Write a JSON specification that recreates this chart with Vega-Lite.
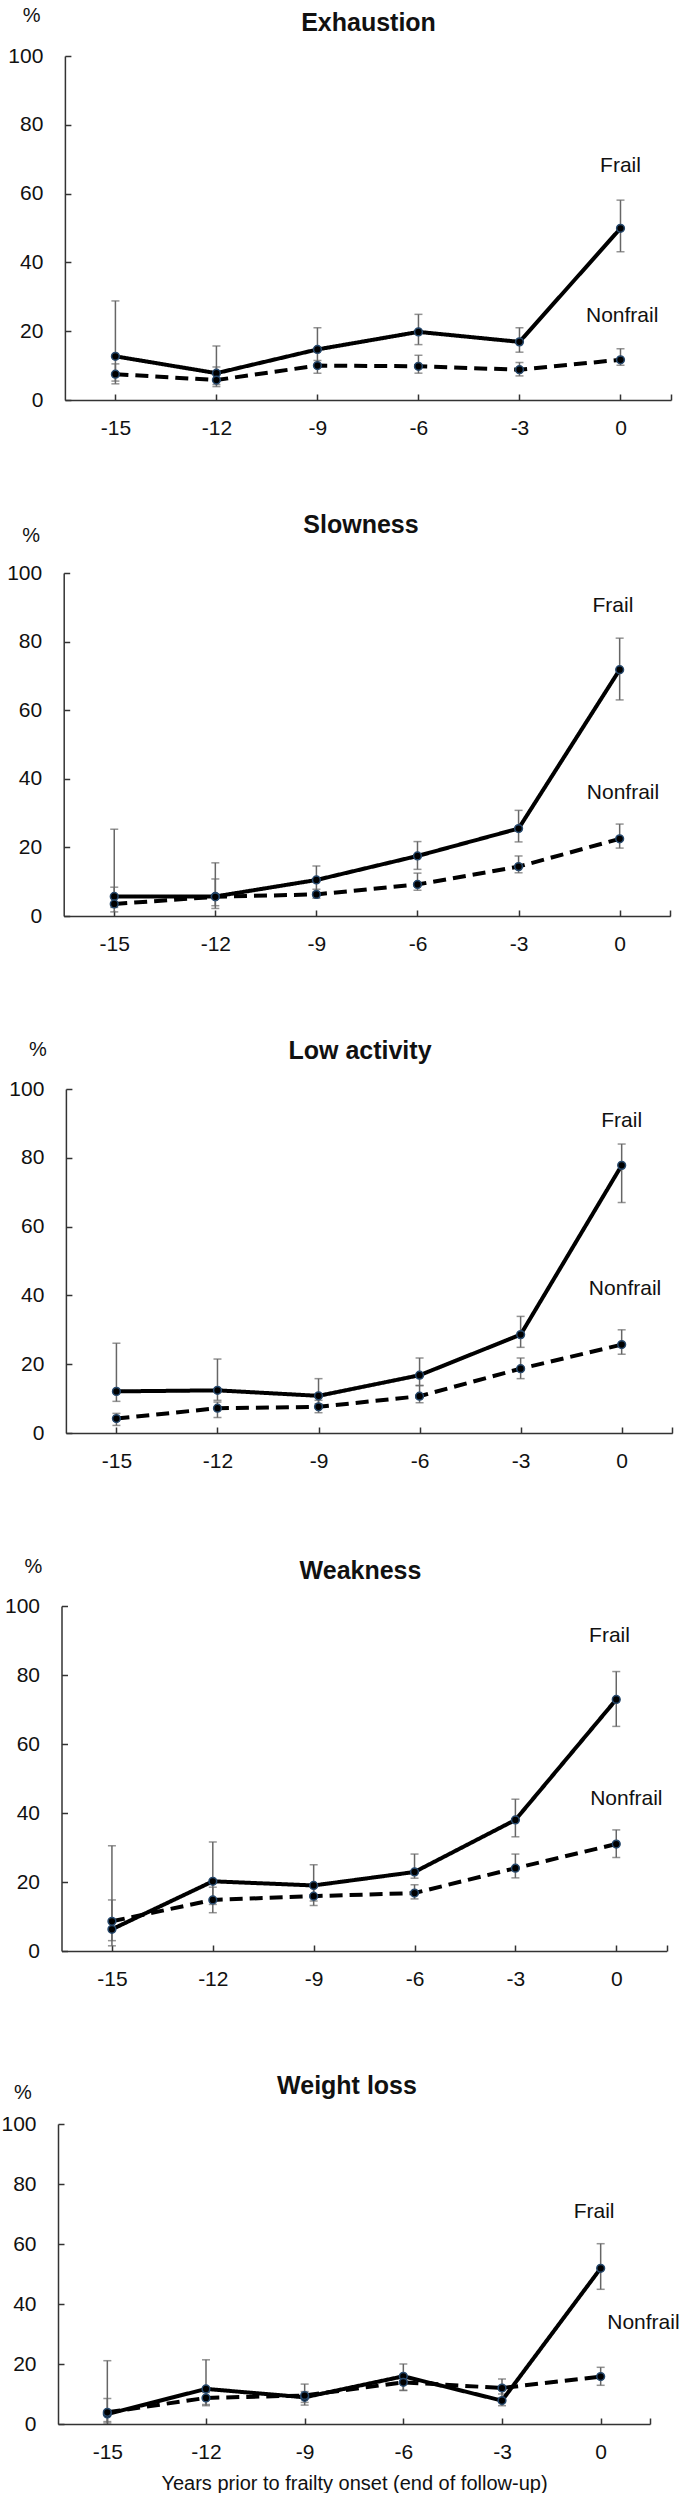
{
  "$schema": "https://vega.github.io/schema/vega-lite/v6.json",
  "padding": {"left": 0, "top": 5, "right": 0, "bottom": 0},
  "background": "white",
  "spacing": 173,
  "bounds": "flush",
  "datasets": {
    "pts": [
      {"panel": "Exhaustion", "group": "Frail", "year": -15, "value": 12.7, "lo": 5.5, "hi": 28.8},
      {"panel": "Exhaustion", "group": "Frail", "year": -12, "value": 7.8, "lo": 4.5, "hi": 15.7},
      {"panel": "Exhaustion", "group": "Frail", "year": -9, "value": 14.7, "lo": 10.0, "hi": 21.0},
      {"panel": "Exhaustion", "group": "Frail", "year": -6, "value": 19.8, "lo": 16.1, "hi": 24.9},
      {"panel": "Exhaustion", "group": "Frail", "year": -3, "value": 16.9, "lo": 13.9, "hi": 21.0},
      {"panel": "Exhaustion", "group": "Frail", "year": 0, "value": 49.9, "lo": 43.1, "hi": 58.1},
      {"panel": "Exhaustion", "group": "Nonfrail", "year": -15, "value": 7.5, "lo": 4.7, "hi": 10.5},
      {"panel": "Exhaustion", "group": "Nonfrail", "year": -12, "value": 5.8, "lo": 3.9, "hi": 9.6},
      {"panel": "Exhaustion", "group": "Nonfrail", "year": -9, "value": 10.0, "lo": 7.8, "hi": 11.5},
      {"panel": "Exhaustion", "group": "Nonfrail", "year": -6, "value": 9.8, "lo": 7.8, "hi": 13.0},
      {"panel": "Exhaustion", "group": "Nonfrail", "year": -3, "value": 8.8, "lo": 7.0, "hi": 10.9},
      {"panel": "Exhaustion", "group": "Nonfrail", "year": 0, "value": 11.7, "lo": 10.1, "hi": 14.9},
      {"panel": "Slowness", "group": "Frail", "year": -15, "value": 5.7, "lo": 2.5, "hi": 25.3},
      {"panel": "Slowness", "group": "Frail", "year": -12, "value": 5.7, "lo": 3.0, "hi": 15.5},
      {"panel": "Slowness", "group": "Frail", "year": -9, "value": 10.5, "lo": 7.0, "hi": 14.6},
      {"panel": "Slowness", "group": "Frail", "year": -6, "value": 17.5, "lo": 13.6, "hi": 21.7},
      {"panel": "Slowness", "group": "Frail", "year": -3, "value": 25.5, "lo": 21.6, "hi": 30.8},
      {"panel": "Slowness", "group": "Frail", "year": 0, "value": 71.8, "lo": 63.0, "hi": 81.0},
      {"panel": "Slowness", "group": "Nonfrail", "year": -15, "value": 3.5, "lo": 1.2, "hi": 8.4},
      {"panel": "Slowness", "group": "Nonfrail", "year": -12, "value": 5.6, "lo": 2.2, "hi": 10.8},
      {"panel": "Slowness", "group": "Nonfrail", "year": -9, "value": 6.3, "lo": 5.2, "hi": 7.8},
      {"panel": "Slowness", "group": "Nonfrail", "year": -6, "value": 9.2, "lo": 7.5, "hi": 12.5},
      {"panel": "Slowness", "group": "Nonfrail", "year": -3, "value": 14.4, "lo": 12.6, "hi": 17.5},
      {"panel": "Slowness", "group": "Nonfrail", "year": 0, "value": 22.5, "lo": 19.8, "hi": 26.8},
      {"panel": "Low activity", "group": "Frail", "year": -15, "value": 12.1, "lo": 9.2, "hi": 26.1},
      {"panel": "Low activity", "group": "Frail", "year": -12, "value": 12.4, "lo": 9.5, "hi": 21.5},
      {"panel": "Low activity", "group": "Frail", "year": -9, "value": 10.8, "lo": 8.5, "hi": 15.8},
      {"panel": "Low activity", "group": "Frail", "year": -6, "value": 16.8, "lo": 13.8, "hi": 21.8},
      {"panel": "Low activity", "group": "Frail", "year": -3, "value": 28.6, "lo": 24.9, "hi": 33.9},
      {"panel": "Low activity", "group": "Frail", "year": 0, "value": 77.8, "lo": 67.0, "hi": 84.0},
      {"panel": "Low activity", "group": "Nonfrail", "year": -15, "value": 4.2, "lo": 2.2, "hi": 5.7},
      {"panel": "Low activity", "group": "Nonfrail", "year": -12, "value": 7.2, "lo": 4.5, "hi": 9.0},
      {"panel": "Low activity", "group": "Nonfrail", "year": -9, "value": 7.6, "lo": 5.9, "hi": 9.5},
      {"panel": "Low activity", "group": "Nonfrail", "year": -6, "value": 10.7, "lo": 8.8, "hi": 13.8},
      {"panel": "Low activity", "group": "Nonfrail", "year": -3, "value": 18.7, "lo": 15.8, "hi": 21.8},
      {"panel": "Low activity", "group": "Nonfrail", "year": 0, "value": 25.7, "lo": 22.9, "hi": 30.0},
      {"panel": "Weakness", "group": "Frail", "year": -15, "value": 6.3, "lo": 1.5, "hi": 30.5},
      {"panel": "Weakness", "group": "Frail", "year": -12, "value": 20.2, "lo": 13.5, "hi": 31.6},
      {"panel": "Weakness", "group": "Frail", "year": -9, "value": 19.0, "lo": 14.5, "hi": 25.0},
      {"panel": "Weakness", "group": "Frail", "year": -6, "value": 22.9, "lo": 21.1, "hi": 28.1},
      {"panel": "Weakness", "group": "Frail", "year": -3, "value": 38.0, "lo": 33.1, "hi": 44.0},
      {"panel": "Weakness", "group": "Frail", "year": 0, "value": 72.9, "lo": 65.1, "hi": 81.0},
      {"panel": "Weakness", "group": "Nonfrail", "year": -15, "value": 8.6, "lo": 3.0, "hi": 14.8},
      {"panel": "Weakness", "group": "Nonfrail", "year": -12, "value": 14.8, "lo": 11.1, "hi": 18.5},
      {"panel": "Weakness", "group": "Nonfrail", "year": -9, "value": 15.9, "lo": 13.2, "hi": 18.5},
      {"panel": "Weakness", "group": "Nonfrail", "year": -6, "value": 16.8, "lo": 15.1, "hi": 19.2},
      {"panel": "Weakness", "group": "Nonfrail", "year": -3, "value": 24.0, "lo": 21.2, "hi": 28.1},
      {"panel": "Weakness", "group": "Nonfrail", "year": 0, "value": 31.0, "lo": 27.1, "hi": 35.1},
      {"panel": "Weight loss", "group": "Frail", "year": -15, "value": 3.3, "lo": 0.3, "hi": 21.1},
      {"panel": "Weight loss", "group": "Frail", "year": -12, "value": 11.7, "lo": 6.5, "hi": 21.4},
      {"panel": "Weight loss", "group": "Frail", "year": -9, "value": 8.9, "lo": 6.3, "hi": 13.3},
      {"panel": "Weight loss", "group": "Frail", "year": -6, "value": 15.9, "lo": 11.2, "hi": 20.0},
      {"panel": "Weight loss", "group": "Frail", "year": -3, "value": 7.8, "lo": 6.1, "hi": 11.5},
      {"panel": "Weight loss", "group": "Frail", "year": 0, "value": 51.9, "lo": 44.9, "hi": 60.1},
      {"panel": "Weight loss", "group": "Nonfrail", "year": -15, "value": 3.9, "lo": 0.8, "hi": 8.5},
      {"panel": "Weight loss", "group": "Nonfrail", "year": -12, "value": 8.7, "lo": 6.1, "hi": 10.5},
      {"panel": "Weight loss", "group": "Nonfrail", "year": -9, "value": 9.5, "lo": 7.2, "hi": 10.8},
      {"panel": "Weight loss", "group": "Nonfrail", "year": -6, "value": 13.9, "lo": 11.2, "hi": 14.5},
      {"panel": "Weight loss", "group": "Nonfrail", "year": -3, "value": 12.0, "lo": 10.0, "hi": 15.0},
      {"panel": "Weight loss", "group": "Nonfrail", "year": 0, "value": 15.8, "lo": 12.9, "hi": 18.9}
    ],
    "labels": [
      {"panel": "Exhaustion", "label": "Frail", "year": 0.0, "value": 68.0},
      {"panel": "Exhaustion", "label": "Nonfrail", "year": 0.05, "value": 24.4},
      {"panel": "Slowness", "label": "Frail", "year": -0.2, "value": 90.5},
      {"panel": "Slowness", "label": "Nonfrail", "year": 0.1, "value": 36.0},
      {"panel": "Low activity", "label": "Frail", "year": 0.0, "value": 90.6},
      {"panel": "Low activity", "label": "Nonfrail", "year": 0.1, "value": 42.0},
      {"panel": "Weakness", "label": "Frail", "year": -0.2, "value": 91.3},
      {"panel": "Weakness", "label": "Nonfrail", "year": 0.3, "value": 44.2},
      {"panel": "Weight loss", "label": "Frail", "year": -0.2, "value": 70.8},
      {"panel": "Weight loss", "label": "Nonfrail", "year": 1.3, "value": 33.7}
    ]
  },
  "vconcat": [
    {
      "width": 613, "height": 344,
      "title": {"text": "Exhaustion", "offset": -30.8, "dx": 4},
      "encoding": {
        "x": {"field": "year", "type": "quantitative", "title": null,
          "scale": {"domain": [-16.5, 1.5], "range": [6.9, 613], "nice": false, "zero": false},
          "axis": {"values": [-15, -12, -9, -6, -3, 0, 1.5], "labelExpr": "datum.value == 1.5 ? '' : '' + datum.value"}}
      },
      "layer": [
        {"data": {"name": "pts"}, "transform": [{"filter": "datum.panel == 'Exhaustion'"}],
         "mark": {"type": "rule", "color": "#666666", "strokeWidth": 1.5},
         "encoding": {"y": {"field": "lo", "type": "quantitative", "title": "%", "scale": {"domain": [0, 100], "nice": false}, "axis": {"values": [0, 20, 40, 60, 80, 100], "offset": -6.9, "titleX": -33.7, "titleY": -40.7}}, "y2": {"field": "hi"}}},
        {"data": {"name": "pts"}, "transform": [{"filter": "datum.panel == 'Exhaustion'"}],
         "mark": {"type": "tick", "orient": "horizontal", "size": 8, "thickness": 1.5, "color": "#666666"},
         "encoding": {"y": {"field": "lo", "type": "quantitative", "title": "%"}}},
        {"data": {"name": "pts"}, "transform": [{"filter": "datum.panel == 'Exhaustion'"}],
         "mark": {"type": "tick", "orient": "horizontal", "size": 8, "thickness": 1.5, "color": "#666666"},
         "encoding": {"y": {"field": "hi", "type": "quantitative", "title": "%"}}},
        {"data": {"name": "pts"}, "transform": [{"filter": "datum.panel == 'Exhaustion'"}],
         "mark": {"type": "line", "color": "black", "strokeWidth": 4},
         "encoding": {"y": {"field": "value", "type": "quantitative", "title": "%"}, "detail": {"field": "group"},
           "strokeDash": {"field": "group", "type": "nominal", "scale": {"domain": ["Frail", "Nonfrail"], "range": [[1, 0], [13, 7]]}, "legend": null}}},
        {"data": {"name": "pts"}, "transform": [{"filter": "datum.panel == 'Exhaustion'"}],
         "mark": {"type": "point", "filled": true, "fill": "black", "stroke": "#27496d", "strokeWidth": 1.5, "size": 60, "opacity": 1},
         "encoding": {"y": {"field": "value", "type": "quantitative", "title": "%"}}},
        {"data": {"name": "labels"}, "transform": [{"filter": "datum.panel == 'Exhaustion'"}],
         "mark": {"type": "text", "fontSize": 21, "color": "#111111", "align": "center", "baseline": "middle"},
         "encoding": {"y": {"field": "value", "type": "quantitative", "title": "%"}, "text": {"field": "label"}}}
      ]
    },
    {
      "width": 612, "height": 343,
      "title": {"text": "Slowness", "offset": -12.5, "dx": -3},
      "encoding": {
        "x": {"field": "year", "type": "quantitative", "title": null,
          "scale": {"domain": [-16.5, 1.5], "range": [5.7, 612.2], "nice": false, "zero": false},
          "axis": {"values": [-15, -12, -9, -6, -3, 0, 1.5], "labelExpr": "datum.value == 1.5 ? '' : '' + datum.value"}}
      },
      "layer": [
        {"data": {"name": "pts"}, "transform": [{"filter": "datum.panel == 'Slowness'"}],
         "mark": {"type": "rule", "color": "#666666", "strokeWidth": 1.5},
         "encoding": {"y": {"field": "lo", "type": "quantitative", "title": "%", "scale": {"domain": [0, 100], "nice": false}, "axis": {"values": [0, 20, 40, 60, 80, 100], "offset": -5.7, "titleX": -33, "titleY": -37.3}}, "y2": {"field": "hi"}}},
        {"data": {"name": "pts"}, "transform": [{"filter": "datum.panel == 'Slowness'"}],
         "mark": {"type": "tick", "orient": "horizontal", "size": 8, "thickness": 1.5, "color": "#666666"},
         "encoding": {"y": {"field": "lo", "type": "quantitative", "title": "%"}}},
        {"data": {"name": "pts"}, "transform": [{"filter": "datum.panel == 'Slowness'"}],
         "mark": {"type": "tick", "orient": "horizontal", "size": 8, "thickness": 1.5, "color": "#666666"},
         "encoding": {"y": {"field": "hi", "type": "quantitative", "title": "%"}}},
        {"data": {"name": "pts"}, "transform": [{"filter": "datum.panel == 'Slowness'"}],
         "mark": {"type": "line", "color": "black", "strokeWidth": 4},
         "encoding": {"y": {"field": "value", "type": "quantitative", "title": "%"}, "detail": {"field": "group"},
           "strokeDash": {"field": "group", "type": "nominal", "scale": {"domain": ["Frail", "Nonfrail"], "range": [[1, 0], [13, 7]]}, "legend": null}}},
        {"data": {"name": "pts"}, "transform": [{"filter": "datum.panel == 'Slowness'"}],
         "mark": {"type": "point", "filled": true, "fill": "black", "stroke": "#27496d", "strokeWidth": 1.5, "size": 60, "opacity": 1},
         "encoding": {"y": {"field": "value", "type": "quantitative", "title": "%"}}},
        {"data": {"name": "labels"}, "transform": [{"filter": "datum.panel == 'Slowness'"}],
         "mark": {"type": "text", "fontSize": 21, "color": "#111111", "align": "center", "baseline": "middle"},
         "encoding": {"y": {"field": "value", "type": "quantitative", "title": "%"}, "text": {"field": "label"}}}
      ]
    },
    {
      "width": 614, "height": 344,
      "title": {"text": "Low activity", "offset": -24.2, "dx": -5},
      "encoding": {
        "x": {"field": "year", "type": "quantitative", "title": null,
          "scale": {"domain": [-16.5, 1.5], "range": [7.9, 614.2], "nice": false, "zero": false},
          "axis": {"values": [-15, -12, -9, -6, -3, 0, 1.5], "labelExpr": "datum.value == 1.5 ? '' : '' + datum.value"}}
      },
      "layer": [
        {"data": {"name": "pts"}, "transform": [{"filter": "datum.panel == 'Low activity'"}],
         "mark": {"type": "rule", "color": "#666666", "strokeWidth": 1.5},
         "encoding": {"y": {"field": "lo", "type": "quantitative", "title": "%", "scale": {"domain": [0, 100], "nice": false}, "axis": {"values": [0, 20, 40, 60, 80, 100], "offset": -7.9, "titleX": -28.5, "titleY": -39.3}}, "y2": {"field": "hi"}}},
        {"data": {"name": "pts"}, "transform": [{"filter": "datum.panel == 'Low activity'"}],
         "mark": {"type": "tick", "orient": "horizontal", "size": 8, "thickness": 1.5, "color": "#666666"},
         "encoding": {"y": {"field": "lo", "type": "quantitative", "title": "%"}}},
        {"data": {"name": "pts"}, "transform": [{"filter": "datum.panel == 'Low activity'"}],
         "mark": {"type": "tick", "orient": "horizontal", "size": 8, "thickness": 1.5, "color": "#666666"},
         "encoding": {"y": {"field": "hi", "type": "quantitative", "title": "%"}}},
        {"data": {"name": "pts"}, "transform": [{"filter": "datum.panel == 'Low activity'"}],
         "mark": {"type": "line", "color": "black", "strokeWidth": 4},
         "encoding": {"y": {"field": "value", "type": "quantitative", "title": "%"}, "detail": {"field": "group"},
           "strokeDash": {"field": "group", "type": "nominal", "scale": {"domain": ["Frail", "Nonfrail"], "range": [[1, 0], [13, 7]]}, "legend": null}}},
        {"data": {"name": "pts"}, "transform": [{"filter": "datum.panel == 'Low activity'"}],
         "mark": {"type": "point", "filled": true, "fill": "black", "stroke": "#27496d", "strokeWidth": 1.5, "size": 60, "opacity": 1},
         "encoding": {"y": {"field": "value", "type": "quantitative", "title": "%"}}},
        {"data": {"name": "labels"}, "transform": [{"filter": "datum.panel == 'Low activity'"}],
         "mark": {"type": "text", "fontSize": 21, "color": "#111111", "align": "center", "baseline": "middle"},
         "encoding": {"y": {"field": "value", "type": "quantitative", "title": "%"}, "text": {"field": "label"}}}
      ]
    },
    {
      "width": 609, "height": 345,
      "title": {"text": "Weakness", "offset": -27.5, "dx": -2},
      "encoding": {
        "x": {"field": "year", "type": "quantitative", "title": null,
          "scale": {"domain": [-16.5, 1.5], "range": [3.5, 608.7], "nice": false, "zero": false},
          "axis": {"values": [-15, -12, -9, -6, -3, 0, 1.5], "labelExpr": "datum.value == 1.5 ? '' : '' + datum.value"}}
      },
      "layer": [
        {"data": {"name": "pts"}, "transform": [{"filter": "datum.panel == 'Weakness'"}],
         "mark": {"type": "rule", "color": "#666666", "strokeWidth": 1.5},
         "encoding": {"y": {"field": "lo", "type": "quantitative", "title": "%", "scale": {"domain": [0, 100], "nice": false}, "axis": {"values": [0, 20, 40, 60, 80, 100], "offset": -3.5, "titleX": -28.5, "titleY": -40}}, "y2": {"field": "hi"}}},
        {"data": {"name": "pts"}, "transform": [{"filter": "datum.panel == 'Weakness'"}],
         "mark": {"type": "tick", "orient": "horizontal", "size": 8, "thickness": 1.5, "color": "#666666"},
         "encoding": {"y": {"field": "lo", "type": "quantitative", "title": "%"}}},
        {"data": {"name": "pts"}, "transform": [{"filter": "datum.panel == 'Weakness'"}],
         "mark": {"type": "tick", "orient": "horizontal", "size": 8, "thickness": 1.5, "color": "#666666"},
         "encoding": {"y": {"field": "hi", "type": "quantitative", "title": "%"}}},
        {"data": {"name": "pts"}, "transform": [{"filter": "datum.panel == 'Weakness'"}],
         "mark": {"type": "line", "color": "black", "strokeWidth": 4},
         "encoding": {"y": {"field": "value", "type": "quantitative", "title": "%"}, "detail": {"field": "group"},
           "strokeDash": {"field": "group", "type": "nominal", "scale": {"domain": ["Frail", "Nonfrail"], "range": [[1, 0], [13, 7]]}, "legend": null}}},
        {"data": {"name": "pts"}, "transform": [{"filter": "datum.panel == 'Weakness'"}],
         "mark": {"type": "point", "filled": true, "fill": "black", "stroke": "#27496d", "strokeWidth": 1.5, "size": 60, "opacity": 1},
         "encoding": {"y": {"field": "value", "type": "quantitative", "title": "%"}}},
        {"data": {"name": "labels"}, "transform": [{"filter": "datum.panel == 'Weakness'"}],
         "mark": {"type": "text", "fontSize": 21, "color": "#111111", "align": "center", "baseline": "middle"},
         "encoding": {"y": {"field": "value", "type": "quantitative", "title": "%"}, "text": {"field": "label"}}}
      ]
    },
    {
      "width": 592, "height": 300,
      "title": {"text": "Weight loss", "offset": -16.5, "dx": -7},
      "encoding": {
        "x": {"field": "year", "type": "quantitative", "title": "Years prior to frailty onset (end of follow-up)",
          "scale": {"domain": [-16.5, 1.5], "range": [0, 592], "nice": false, "zero": false},
          "axis": {"values": [-15, -12, -9, -6, -3, 0, 1.5], "labelExpr": "datum.value == 1.5 ? '' : '' + datum.value", "titlePadding": 11}}
      },
      "layer": [
        {"data": {"name": "pts"}, "transform": [{"filter": "datum.panel == 'Weight loss'"}],
         "mark": {"type": "rule", "color": "#666666", "strokeWidth": 1.5},
         "encoding": {"y": {"field": "lo", "type": "quantitative", "title": "%", "scale": {"domain": [0, 100], "nice": false}, "axis": {"values": [0, 20, 40, 60, 80, 100], "offset": 0, "titleX": -35.7, "titleY": -32}}, "y2": {"field": "hi"}}},
        {"data": {"name": "pts"}, "transform": [{"filter": "datum.panel == 'Weight loss'"}],
         "mark": {"type": "tick", "orient": "horizontal", "size": 8, "thickness": 1.5, "color": "#666666"},
         "encoding": {"y": {"field": "lo", "type": "quantitative", "title": "%"}}},
        {"data": {"name": "pts"}, "transform": [{"filter": "datum.panel == 'Weight loss'"}],
         "mark": {"type": "tick", "orient": "horizontal", "size": 8, "thickness": 1.5, "color": "#666666"},
         "encoding": {"y": {"field": "hi", "type": "quantitative", "title": "%"}}},
        {"data": {"name": "pts"}, "transform": [{"filter": "datum.panel == 'Weight loss'"}],
         "mark": {"type": "line", "color": "black", "strokeWidth": 4},
         "encoding": {"y": {"field": "value", "type": "quantitative", "title": "%"}, "detail": {"field": "group"},
           "strokeDash": {"field": "group", "type": "nominal", "scale": {"domain": ["Frail", "Nonfrail"], "range": [[1, 0], [13, 7]]}, "legend": null}}},
        {"data": {"name": "pts"}, "transform": [{"filter": "datum.panel == 'Weight loss'"}],
         "mark": {"type": "point", "filled": true, "fill": "black", "stroke": "#27496d", "strokeWidth": 1.5, "size": 60, "opacity": 1},
         "encoding": {"y": {"field": "value", "type": "quantitative", "title": "%"}}},
        {"data": {"name": "labels"}, "transform": [{"filter": "datum.panel == 'Weight loss'"}],
         "mark": {"type": "text", "fontSize": 21, "color": "#111111", "align": "center", "baseline": "middle"},
         "encoding": {"y": {"field": "value", "type": "quantitative", "title": "%"}, "text": {"field": "label"}}}
      ]
    }
  ],
  "config": {
    "font": "Liberation Sans",
    "view": {"stroke": null},
    "axis": {
      "grid": false,
      "domainColor": "#333333", "domainWidth": 1.5,
      "tickColor": "#333333", "tickWidth": 1.5, "tickSize": -6,
      "labelFont": "Liberation Sans", "labelFontSize": 21, "labelColor": "#111111",
      "labelOverlap": false, "labelFlush": false,
      "titleFont": "Liberation Sans", "titleFontSize": 20, "titleFontWeight": "normal", "titleColor": "#111111"
    },
    "axisX": {"labelPadding": 23},
    "axisY": {"labelPadding": 28, "titleAngle": 0, "titleAlign": "center", "titleBaseline": "middle"},
    "title": {"font": "Liberation Sans", "fontSize": 25, "fontWeight": "bold", "color": "#111111", "anchor": "middle", "frame": "group", "baseline": "middle"}
  }
}
